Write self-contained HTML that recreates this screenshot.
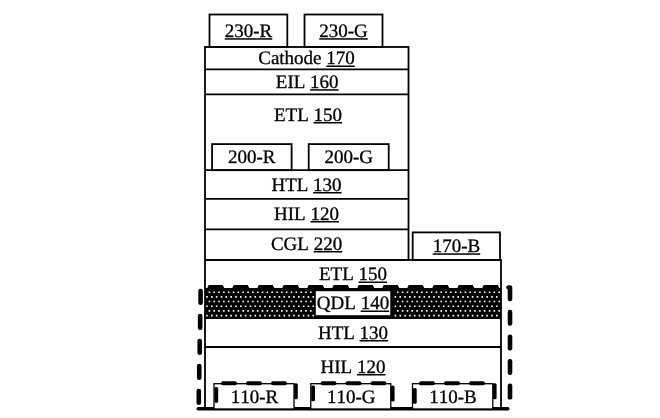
<!DOCTYPE html>
<html><head><meta charset="utf-8"><style>
html,body{margin:0;padding:0;background:#fff;}
svg{display:block;will-change:transform;}
text{font-family:"Liberation Serif",serif;fill:#000;stroke:#000;stroke-width:0.3;text-rendering:geometricPrecision;font-kerning:none;}
</style></head><body>
<svg width="660" height="418" viewBox="0 0 660 418">
<rect x="0" y="0" width="660" height="418" fill="#fff"/>
<rect x="209.5" y="14.5" width="77.80" height="32.50" fill="none" stroke="#000" stroke-width="1.8"/>
<rect x="304.5" y="14.5" width="78.00" height="32.50" fill="none" stroke="#000" stroke-width="1.8"/>
<text x="248.5" y="36.7" text-anchor="middle" font-size="19"><tspan id="u0">230-R</tspan></text>
<rect x="224.75" y="38.2" width="47.50" height="1.5" fill="#000"/>
<text x="343.5" y="36.7" text-anchor="middle" font-size="19"><tspan id="u1">230-G</tspan></text>
<rect x="319.22" y="38.2" width="48.56" height="1.5" fill="#000"/>
<rect x="205" y="47" width="203.50" height="213.00" fill="none" stroke="#000" stroke-width="1.8"/>
<line x1="205" y1="69.3" x2="408.5" y2="69.3" stroke="#000" stroke-width="1.8"/>
<line x1="205" y1="94.4" x2="408.5" y2="94.4" stroke="#000" stroke-width="1.8"/>
<line x1="205" y1="170.2" x2="408.5" y2="170.2" stroke="#000" stroke-width="1.8"/>
<line x1="205" y1="198.8" x2="408.5" y2="198.8" stroke="#000" stroke-width="1.8"/>
<line x1="205" y1="229.4" x2="408.5" y2="229.4" stroke="#000" stroke-width="1.8"/>
<text x="306.5" y="64" text-anchor="middle" font-size="19">Cathode <tspan id="u2">170</tspan></text>
<rect x="326.29" y="65.5" width="28.50" height="1.5" fill="#000"/>
<text x="307.2" y="87.7" text-anchor="middle" font-size="19">EIL <tspan id="u3">160</tspan></text>
<rect x="310.10" y="89.2" width="28.50" height="1.5" fill="#000"/>
<text x="308" y="120.5" text-anchor="middle" font-size="19">ETL <tspan id="u4">150</tspan></text>
<rect x="313.54" y="122.0" width="28.50" height="1.5" fill="#000"/>
<rect x="212.1" y="144.1" width="79.50" height="26.10" fill="none" stroke="#000" stroke-width="1.8"/>
<rect x="308.7" y="144.1" width="80.00" height="26.10" fill="none" stroke="#000" stroke-width="1.8"/>
<text x="251.8" y="163.1" text-anchor="middle" font-size="19">200-R</text>
<text x="348.7" y="163.1" text-anchor="middle" font-size="19">200-G</text>
<text x="306.5" y="190.5" text-anchor="middle" font-size="19">HTL <tspan id="u5">130</tspan></text>
<rect x="313.09" y="192.0" width="28.50" height="1.5" fill="#000"/>
<text x="306.5" y="219.5" text-anchor="middle" font-size="19">HIL <tspan id="u6">120</tspan></text>
<rect x="310.45" y="221.0" width="28.50" height="1.5" fill="#000"/>
<text x="306.5" y="249.5" text-anchor="middle" font-size="19">CGL <tspan id="u7">220</tspan></text>
<rect x="313.62" y="251.0" width="28.50" height="1.5" fill="#000"/>
<rect x="412.7" y="232.4" width="87.30" height="27.60" fill="none" stroke="#000" stroke-width="1.8"/>
<text x="456.5" y="251.8" text-anchor="middle" font-size="19"><tspan id="u8">170-B</tspan></text>
<rect x="432.75" y="253.3" width="47.50" height="1.5" fill="#000"/>
<rect x="205" y="260" width="296.00" height="149.00" fill="none" stroke="#000" stroke-width="1.8"/>
<line x1="205" y1="347" x2="501" y2="347" stroke="#000" stroke-width="1.8"/>
<rect x="205" y="288" width="296.00" height="30.00" rx="0" fill="#000"/>
<path fill="#fff" d="M208.60 291.40h1.6v1.6h-1.6zM213.43 291.40h1.6v1.6h-1.6zM218.26 291.40h1.6v1.6h-1.6zM223.09 291.40h1.6v1.6h-1.6zM227.92 291.40h1.6v1.6h-1.6zM232.75 291.40h1.6v1.6h-1.6zM237.58 291.40h1.6v1.6h-1.6zM242.41 291.40h1.6v1.6h-1.6zM247.24 291.40h1.6v1.6h-1.6zM252.07 291.40h1.6v1.6h-1.6zM256.90 291.40h1.6v1.6h-1.6zM261.73 291.40h1.6v1.6h-1.6zM266.56 291.40h1.6v1.6h-1.6zM271.39 291.40h1.6v1.6h-1.6zM276.22 291.40h1.6v1.6h-1.6zM281.05 291.40h1.6v1.6h-1.6zM285.88 291.40h1.6v1.6h-1.6zM290.71 291.40h1.6v1.6h-1.6zM295.54 291.40h1.6v1.6h-1.6zM300.37 291.40h1.6v1.6h-1.6zM305.20 291.40h1.6v1.6h-1.6zM310.03 291.40h1.6v1.6h-1.6zM396.97 291.40h1.6v1.6h-1.6zM401.80 291.40h1.6v1.6h-1.6zM406.63 291.40h1.6v1.6h-1.6zM411.46 291.40h1.6v1.6h-1.6zM416.29 291.40h1.6v1.6h-1.6zM421.12 291.40h1.6v1.6h-1.6zM425.95 291.40h1.6v1.6h-1.6zM430.78 291.40h1.6v1.6h-1.6zM435.61 291.40h1.6v1.6h-1.6zM440.44 291.40h1.6v1.6h-1.6zM445.27 291.40h1.6v1.6h-1.6zM450.10 291.40h1.6v1.6h-1.6zM454.93 291.40h1.6v1.6h-1.6zM459.76 291.40h1.6v1.6h-1.6zM464.59 291.40h1.6v1.6h-1.6zM469.42 291.40h1.6v1.6h-1.6zM474.25 291.40h1.6v1.6h-1.6zM479.08 291.40h1.6v1.6h-1.6zM483.91 291.40h1.6v1.6h-1.6zM488.74 291.40h1.6v1.6h-1.6zM493.57 291.40h1.6v1.6h-1.6zM498.40 291.40h1.6v1.6h-1.6zM206.20 296.08h1.6v1.6h-1.6zM211.03 296.08h1.6v1.6h-1.6zM215.86 296.08h1.6v1.6h-1.6zM220.69 296.08h1.6v1.6h-1.6zM225.52 296.08h1.6v1.6h-1.6zM230.35 296.08h1.6v1.6h-1.6zM235.18 296.08h1.6v1.6h-1.6zM240.01 296.08h1.6v1.6h-1.6zM244.84 296.08h1.6v1.6h-1.6zM249.67 296.08h1.6v1.6h-1.6zM254.50 296.08h1.6v1.6h-1.6zM259.33 296.08h1.6v1.6h-1.6zM264.16 296.08h1.6v1.6h-1.6zM268.99 296.08h1.6v1.6h-1.6zM273.82 296.08h1.6v1.6h-1.6zM278.65 296.08h1.6v1.6h-1.6zM283.48 296.08h1.6v1.6h-1.6zM288.31 296.08h1.6v1.6h-1.6zM293.14 296.08h1.6v1.6h-1.6zM297.97 296.08h1.6v1.6h-1.6zM302.80 296.08h1.6v1.6h-1.6zM307.63 296.08h1.6v1.6h-1.6zM312.46 296.08h1.6v1.6h-1.6zM394.57 296.08h1.6v1.6h-1.6zM399.40 296.08h1.6v1.6h-1.6zM404.23 296.08h1.6v1.6h-1.6zM409.06 296.08h1.6v1.6h-1.6zM413.89 296.08h1.6v1.6h-1.6zM418.72 296.08h1.6v1.6h-1.6zM423.55 296.08h1.6v1.6h-1.6zM428.38 296.08h1.6v1.6h-1.6zM433.21 296.08h1.6v1.6h-1.6zM438.04 296.08h1.6v1.6h-1.6zM442.87 296.08h1.6v1.6h-1.6zM447.70 296.08h1.6v1.6h-1.6zM452.53 296.08h1.6v1.6h-1.6zM457.36 296.08h1.6v1.6h-1.6zM462.19 296.08h1.6v1.6h-1.6zM467.02 296.08h1.6v1.6h-1.6zM471.85 296.08h1.6v1.6h-1.6zM476.68 296.08h1.6v1.6h-1.6zM481.51 296.08h1.6v1.6h-1.6zM486.34 296.08h1.6v1.6h-1.6zM491.17 296.08h1.6v1.6h-1.6zM496.00 296.08h1.6v1.6h-1.6zM208.60 300.76h1.6v1.6h-1.6zM213.43 300.76h1.6v1.6h-1.6zM218.26 300.76h1.6v1.6h-1.6zM223.09 300.76h1.6v1.6h-1.6zM227.92 300.76h1.6v1.6h-1.6zM232.75 300.76h1.6v1.6h-1.6zM237.58 300.76h1.6v1.6h-1.6zM242.41 300.76h1.6v1.6h-1.6zM247.24 300.76h1.6v1.6h-1.6zM252.07 300.76h1.6v1.6h-1.6zM256.90 300.76h1.6v1.6h-1.6zM261.73 300.76h1.6v1.6h-1.6zM266.56 300.76h1.6v1.6h-1.6zM271.39 300.76h1.6v1.6h-1.6zM276.22 300.76h1.6v1.6h-1.6zM281.05 300.76h1.6v1.6h-1.6zM285.88 300.76h1.6v1.6h-1.6zM290.71 300.76h1.6v1.6h-1.6zM295.54 300.76h1.6v1.6h-1.6zM300.37 300.76h1.6v1.6h-1.6zM305.20 300.76h1.6v1.6h-1.6zM310.03 300.76h1.6v1.6h-1.6zM396.97 300.76h1.6v1.6h-1.6zM401.80 300.76h1.6v1.6h-1.6zM406.63 300.76h1.6v1.6h-1.6zM411.46 300.76h1.6v1.6h-1.6zM416.29 300.76h1.6v1.6h-1.6zM421.12 300.76h1.6v1.6h-1.6zM425.95 300.76h1.6v1.6h-1.6zM430.78 300.76h1.6v1.6h-1.6zM435.61 300.76h1.6v1.6h-1.6zM440.44 300.76h1.6v1.6h-1.6zM445.27 300.76h1.6v1.6h-1.6zM450.10 300.76h1.6v1.6h-1.6zM454.93 300.76h1.6v1.6h-1.6zM459.76 300.76h1.6v1.6h-1.6zM464.59 300.76h1.6v1.6h-1.6zM469.42 300.76h1.6v1.6h-1.6zM474.25 300.76h1.6v1.6h-1.6zM479.08 300.76h1.6v1.6h-1.6zM483.91 300.76h1.6v1.6h-1.6zM488.74 300.76h1.6v1.6h-1.6zM493.57 300.76h1.6v1.6h-1.6zM498.40 300.76h1.6v1.6h-1.6zM206.20 305.44h1.6v1.6h-1.6zM211.03 305.44h1.6v1.6h-1.6zM215.86 305.44h1.6v1.6h-1.6zM220.69 305.44h1.6v1.6h-1.6zM225.52 305.44h1.6v1.6h-1.6zM230.35 305.44h1.6v1.6h-1.6zM235.18 305.44h1.6v1.6h-1.6zM240.01 305.44h1.6v1.6h-1.6zM244.84 305.44h1.6v1.6h-1.6zM249.67 305.44h1.6v1.6h-1.6zM254.50 305.44h1.6v1.6h-1.6zM259.33 305.44h1.6v1.6h-1.6zM264.16 305.44h1.6v1.6h-1.6zM268.99 305.44h1.6v1.6h-1.6zM273.82 305.44h1.6v1.6h-1.6zM278.65 305.44h1.6v1.6h-1.6zM283.48 305.44h1.6v1.6h-1.6zM288.31 305.44h1.6v1.6h-1.6zM293.14 305.44h1.6v1.6h-1.6zM297.97 305.44h1.6v1.6h-1.6zM302.80 305.44h1.6v1.6h-1.6zM307.63 305.44h1.6v1.6h-1.6zM312.46 305.44h1.6v1.6h-1.6zM394.57 305.44h1.6v1.6h-1.6zM399.40 305.44h1.6v1.6h-1.6zM404.23 305.44h1.6v1.6h-1.6zM409.06 305.44h1.6v1.6h-1.6zM413.89 305.44h1.6v1.6h-1.6zM418.72 305.44h1.6v1.6h-1.6zM423.55 305.44h1.6v1.6h-1.6zM428.38 305.44h1.6v1.6h-1.6zM433.21 305.44h1.6v1.6h-1.6zM438.04 305.44h1.6v1.6h-1.6zM442.87 305.44h1.6v1.6h-1.6zM447.70 305.44h1.6v1.6h-1.6zM452.53 305.44h1.6v1.6h-1.6zM457.36 305.44h1.6v1.6h-1.6zM462.19 305.44h1.6v1.6h-1.6zM467.02 305.44h1.6v1.6h-1.6zM471.85 305.44h1.6v1.6h-1.6zM476.68 305.44h1.6v1.6h-1.6zM481.51 305.44h1.6v1.6h-1.6zM486.34 305.44h1.6v1.6h-1.6zM491.17 305.44h1.6v1.6h-1.6zM496.00 305.44h1.6v1.6h-1.6zM208.60 310.12h1.6v1.6h-1.6zM213.43 310.12h1.6v1.6h-1.6zM218.26 310.12h1.6v1.6h-1.6zM223.09 310.12h1.6v1.6h-1.6zM227.92 310.12h1.6v1.6h-1.6zM232.75 310.12h1.6v1.6h-1.6zM237.58 310.12h1.6v1.6h-1.6zM242.41 310.12h1.6v1.6h-1.6zM247.24 310.12h1.6v1.6h-1.6zM252.07 310.12h1.6v1.6h-1.6zM256.90 310.12h1.6v1.6h-1.6zM261.73 310.12h1.6v1.6h-1.6zM266.56 310.12h1.6v1.6h-1.6zM271.39 310.12h1.6v1.6h-1.6zM276.22 310.12h1.6v1.6h-1.6zM281.05 310.12h1.6v1.6h-1.6zM285.88 310.12h1.6v1.6h-1.6zM290.71 310.12h1.6v1.6h-1.6zM295.54 310.12h1.6v1.6h-1.6zM300.37 310.12h1.6v1.6h-1.6zM305.20 310.12h1.6v1.6h-1.6zM310.03 310.12h1.6v1.6h-1.6zM396.97 310.12h1.6v1.6h-1.6zM401.80 310.12h1.6v1.6h-1.6zM406.63 310.12h1.6v1.6h-1.6zM411.46 310.12h1.6v1.6h-1.6zM416.29 310.12h1.6v1.6h-1.6zM421.12 310.12h1.6v1.6h-1.6zM425.95 310.12h1.6v1.6h-1.6zM430.78 310.12h1.6v1.6h-1.6zM435.61 310.12h1.6v1.6h-1.6zM440.44 310.12h1.6v1.6h-1.6zM445.27 310.12h1.6v1.6h-1.6zM450.10 310.12h1.6v1.6h-1.6zM454.93 310.12h1.6v1.6h-1.6zM459.76 310.12h1.6v1.6h-1.6zM464.59 310.12h1.6v1.6h-1.6zM469.42 310.12h1.6v1.6h-1.6zM474.25 310.12h1.6v1.6h-1.6zM479.08 310.12h1.6v1.6h-1.6zM483.91 310.12h1.6v1.6h-1.6zM488.74 310.12h1.6v1.6h-1.6zM493.57 310.12h1.6v1.6h-1.6zM498.40 310.12h1.6v1.6h-1.6zM206.20 314.80h1.6v1.6h-1.6zM211.03 314.80h1.6v1.6h-1.6zM215.86 314.80h1.6v1.6h-1.6zM220.69 314.80h1.6v1.6h-1.6zM225.52 314.80h1.6v1.6h-1.6zM230.35 314.80h1.6v1.6h-1.6zM235.18 314.80h1.6v1.6h-1.6zM240.01 314.80h1.6v1.6h-1.6zM244.84 314.80h1.6v1.6h-1.6zM249.67 314.80h1.6v1.6h-1.6zM254.50 314.80h1.6v1.6h-1.6zM259.33 314.80h1.6v1.6h-1.6zM264.16 314.80h1.6v1.6h-1.6zM268.99 314.80h1.6v1.6h-1.6zM273.82 314.80h1.6v1.6h-1.6zM278.65 314.80h1.6v1.6h-1.6zM283.48 314.80h1.6v1.6h-1.6zM288.31 314.80h1.6v1.6h-1.6zM293.14 314.80h1.6v1.6h-1.6zM297.97 314.80h1.6v1.6h-1.6zM302.80 314.80h1.6v1.6h-1.6zM307.63 314.80h1.6v1.6h-1.6zM312.46 314.80h1.6v1.6h-1.6zM394.57 314.80h1.6v1.6h-1.6zM399.40 314.80h1.6v1.6h-1.6zM404.23 314.80h1.6v1.6h-1.6zM409.06 314.80h1.6v1.6h-1.6zM413.89 314.80h1.6v1.6h-1.6zM418.72 314.80h1.6v1.6h-1.6zM423.55 314.80h1.6v1.6h-1.6zM428.38 314.80h1.6v1.6h-1.6zM433.21 314.80h1.6v1.6h-1.6zM438.04 314.80h1.6v1.6h-1.6zM442.87 314.80h1.6v1.6h-1.6zM447.70 314.80h1.6v1.6h-1.6zM452.53 314.80h1.6v1.6h-1.6zM457.36 314.80h1.6v1.6h-1.6zM462.19 314.80h1.6v1.6h-1.6zM467.02 314.80h1.6v1.6h-1.6zM471.85 314.80h1.6v1.6h-1.6zM476.68 314.80h1.6v1.6h-1.6zM481.51 314.80h1.6v1.6h-1.6zM486.34 314.80h1.6v1.6h-1.6zM491.17 314.80h1.6v1.6h-1.6zM496.00 314.80h1.6v1.6h-1.6z"/>
<line x1="205" y1="318" x2="501" y2="318" stroke="#000" stroke-width="1.8"/>
<rect x="315.8" y="291.2" width="74.50" height="24.00" rx="0" fill="#fff"/>
<text x="353" y="280" text-anchor="middle" font-size="19">ETL <tspan id="u9">150</tspan></text>
<rect x="358.54" y="281.5" width="28.50" height="1.5" fill="#000"/>
<text x="353" y="309" text-anchor="middle" font-size="19">QDL <tspan id="u10">140</tspan></text>
<rect x="360.66" y="310.5" width="28.50" height="1.5" fill="#000"/>
<text x="353" y="338.5" text-anchor="middle" font-size="19">HTL <tspan id="u11">130</tspan></text>
<rect x="359.59" y="340.0" width="28.50" height="1.5" fill="#000"/>
<text x="353" y="372.5" text-anchor="middle" font-size="19">HIL <tspan id="u12">120</tspan></text>
<rect x="356.95" y="374.0" width="28.50" height="1.5" fill="#000"/>
<path d="M207.0 288.5 L208.7 285 L222.7 285 L224.5 288.5 Z" fill="#000"/>
<path d="M232.0 288.5 L233.7 285 L247.7 285 L249.5 288.5 Z" fill="#000"/>
<path d="M257.0 288.5 L258.7 285 L272.7 285 L274.5 288.5 Z" fill="#000"/>
<path d="M282.0 288.5 L283.7 285 L297.7 285 L299.5 288.5 Z" fill="#000"/>
<path d="M307.0 288.5 L308.7 285 L322.7 285 L324.5 288.5 Z" fill="#000"/>
<path d="M332.0 288.5 L333.7 285 L347.7 285 L349.5 288.5 Z" fill="#000"/>
<path d="M357.0 288.5 L358.7 285 L372.7 285 L374.5 288.5 Z" fill="#000"/>
<path d="M382.0 288.5 L383.7 285 L397.7 285 L399.5 288.5 Z" fill="#000"/>
<path d="M407.0 288.5 L408.7 285 L422.7 285 L424.5 288.5 Z" fill="#000"/>
<path d="M432.0 288.5 L433.7 285 L447.7 285 L449.5 288.5 Z" fill="#000"/>
<path d="M457.0 288.5 L458.7 285 L472.7 285 L474.5 288.5 Z" fill="#000"/>
<path d="M482.0 288.5 L483.7 285 L497.7 285 L499.5 288.5 Z" fill="#000"/>
<rect x="506.2" y="285.4" width="4" height="3.8" rx="1.6" fill="#000"/>
<rect x="196.5" y="407" width="313" height="3.4" rx="1.7" fill="#000"/>
<rect x="214" y="383.5" width="80.00" height="25.10" rx="0" fill="#fff"/>
<rect x="214" y="383.7" width="80.00" height="25.50" fill="none" stroke="#000" stroke-width="1.3"/>
<text x="254.4" y="402.6" text-anchor="middle" font-size="19">110-R</text>
<rect x="221" y="381.3" width="16" height="4" rx="2" fill="#000"/>
<rect x="246" y="381.3" width="16" height="4" rx="2" fill="#000"/>
<rect x="271" y="381.3" width="16" height="4" rx="2" fill="#000"/>
<rect x="214.4" y="387" width="3.8" height="15.8" rx="1.5" fill="#000"/>
<rect x="294.1" y="383.3" width="3.7" height="16" rx="1.5" fill="#000"/>
<rect x="310.8" y="383.5" width="80.00" height="25.10" rx="0" fill="#fff"/>
<rect x="310.8" y="383.7" width="80.00" height="25.50" fill="none" stroke="#000" stroke-width="1.3"/>
<text x="351.2" y="402.6" text-anchor="middle" font-size="19">110-G</text>
<rect x="320.5" y="381.3" width="16" height="4" rx="2" fill="#000"/>
<rect x="345.5" y="381.3" width="16" height="4" rx="2" fill="#000"/>
<rect x="370.5" y="381.3" width="16" height="4" rx="2" fill="#000"/>
<rect x="311.2" y="385.5" width="3.8" height="15.8" rx="1.5" fill="#000"/>
<rect x="390.90000000000003" y="385.5" width="3.7" height="16" rx="1.5" fill="#000"/>
<rect x="412.5" y="383.5" width="80.30" height="25.10" rx="0" fill="#fff"/>
<rect x="412.5" y="383.7" width="80.30" height="25.50" fill="none" stroke="#000" stroke-width="1.3"/>
<text x="453.04999999999995" y="402.6" text-anchor="middle" font-size="19">110-B</text>
<rect x="419" y="381.3" width="16" height="4" rx="2" fill="#000"/>
<rect x="444" y="381.3" width="16" height="4" rx="2" fill="#000"/>
<rect x="469" y="381.3" width="16" height="4" rx="2" fill="#000"/>
<rect x="412.9" y="388" width="3.8" height="15.8" rx="1.5" fill="#000"/>
<rect x="492.90000000000003" y="383.3" width="3.7" height="16" rx="1.5" fill="#000"/>
<rect x="198.30" y="288.70" width="4.6" height="16.20" rx="2.2" fill="#000"/>
<rect x="197.85" y="313.70" width="4.6" height="16.20" rx="2.2" fill="#000"/>
<rect x="197.40" y="338.70" width="4.6" height="16.20" rx="2.2" fill="#000"/>
<rect x="196.95" y="363.70" width="4.6" height="16.20" rx="2.2" fill="#000"/>
<rect x="196.50" y="388.70" width="4.6" height="16.20" rx="2.2" fill="#000"/>
<rect x="507.70" y="285.20" width="4.6" height="16.00" rx="2.2" fill="#000"/>
<rect x="507.70" y="309.80" width="4.6" height="16.00" rx="2.2" fill="#000"/>
<rect x="507.70" y="334.40" width="4.6" height="16.00" rx="2.2" fill="#000"/>
<rect x="507.70" y="359.00" width="4.6" height="16.00" rx="2.2" fill="#000"/>
<rect x="507.70" y="383.60" width="4.6" height="16.00" rx="2.2" fill="#000"/>
</svg>
</body></html>
